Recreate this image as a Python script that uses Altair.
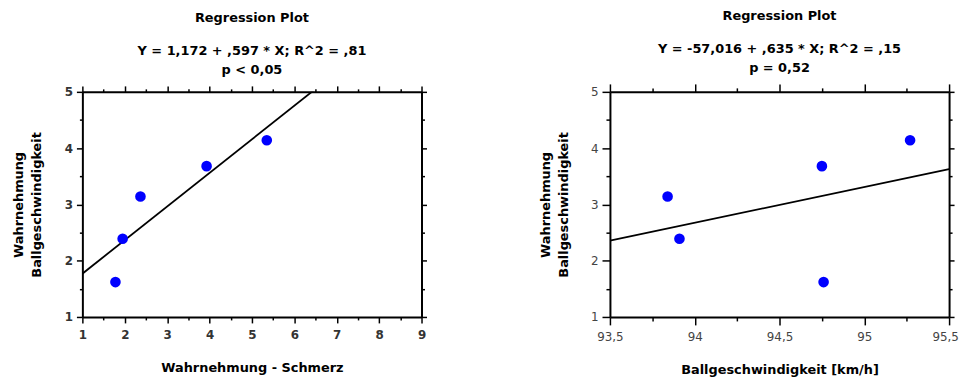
import altair as alt
import pandas as pd

# Shared response: Wahrnehmung Ballgeschwindigkeit
wahrnehmung_ball = [1.62, 2.39, 3.14, 3.68, 4.14]
# Left predictor: Wahrnehmung - Schmerz
wahrnehmung_schmerz = [1.78, 1.95, 2.37, 3.93, 5.35]
# Right predictor: Ballgeschwindigkeit [km/h]
ballgeschwindigkeit = [94.76, 93.91, 93.84, 94.75, 95.27]

left_intercept, left_slope = 1.172, 0.597
right_intercept, right_slope = -57.016, 0.635

left_x_ticks = [1, 1.5, 2, 2.5, 3, 3.5, 4, 4.5, 5, 5.5, 6, 6.5, 7, 7.5, 8, 8.5, 9]
right_x_ticks = [93.5, 93.75, 94, 94.25, 94.5, 94.75, 95, 95.25, 95.5]
y_ticks = [1, 1.5, 2, 2.5, 3, 3.5, 4, 4.5, 5]

left_domain = [1, 9]
right_domain = [93.5, 95.5]
y_domain = [1, 5]

FONT = "DejaVu Sans"
W, H = 342, 227


def make_panel(xvals, xdomain, xticks, major_test, label_expr, xtitle,
               intercept, slope, subtitle, label_weight, label_color,
               major_size, minor_size, ytitle_pad, last_label_offset):
    df = pd.DataFrame({"x": xvals, "y": wahrnehmung_ball})
    line_df = pd.DataFrame({"x": xdomain})
    xscale = alt.Scale(domain=xdomain, nice=False, zero=False)
    yscale = alt.Scale(domain=y_domain, nice=False, zero=False)
    xtick_size = {"condition": {"test": major_test, "value": major_size}, "value": minor_size}
    ytick_size = {"condition": {"test": "datum.value % 1 == 0", "value": major_size}, "value": minor_size}
    rtick_size = {"condition": {"test": "datum.value % 1 == 0", "value": 5}, "value": 3}
    common = dict(domainColor="black", domainWidth=2, tickColor="black",
                  tickWidth=1.5, grid=False)

    bottom = alt.Axis(orient="bottom", values=xticks, labelExpr=label_expr,
                      tickSize=xtick_size, labelFont=FONT, labelFontSize=12,
                      labelFontWeight=label_weight, labelColor=label_color,
                      labelPadding=7, labelFlush=False, labelOverlap=False,
                      labelOffset={"condition": {"test": f"datum.value == {xdomain[1]}",
                                                 "value": last_label_offset},
                                   "value": 0},
                      title=xtitle, titleFont=FONT,
                      titleFontSize=13, titleFontWeight="bold", titleColor="black",
                      titlePadding=21, **common)
    left = alt.Axis(orient="left", values=y_ticks,
                    labelExpr="datum.value % 1 == 0 ? format(datum.value, 'd') : ''",
                    tickSize=ytick_size, labelFont=FONT, labelFontSize=12,
                    labelFontWeight=label_weight, labelColor=label_color,
                    labelPadding=4, labelFlush=False, labelOverlap=False,
                    title=["Wahrnehmung", "Ballgeschwindigkeit"],
                    titleFont=FONT, titleFontSize=13, titleFontWeight="bold",
                    titleColor="black", titleLineHeight=18, titlePadding=ytitle_pad,
                    **common)
    top = alt.Axis(orient="top", values=xticks, labels=False, tickSize=xtick_size,
                   title=None, **common)
    right = alt.Axis(orient="right", values=y_ticks, labels=False,
                     tickSize=rtick_size, title=None, **common)

    line = alt.Chart(line_df).transform_calculate(
        y=f"{intercept} + {slope} * datum.x"
    ).mark_line(color="black", strokeWidth=1.8, clip=True).encode(
        x=alt.X("x:Q", scale=xscale, axis=None),
        y=alt.Y("y:Q", scale=yscale, axis=None),
    )
    pts = alt.Chart(df).mark_circle(size=115, color="#0000ff", opacity=1).encode(
        x=alt.X("x:Q", scale=xscale, axis=bottom),
        y=alt.Y("y:Q", scale=yscale, axis=left),
    )
    ghost = alt.Chart(df).mark_point(opacity=0).encode(
        x=alt.X("x:Q", scale=xscale, axis=top),
        y=alt.Y("y:Q", scale=yscale, axis=right),
    )
    return alt.layer(line, pts, ghost).resolve_axis(
        x="independent", y="independent"
    ).properties(
        width=W, height=H,
        title=alt.TitleParams(
            text="Regression Plot", subtitle=subtitle, anchor="middle",
            font=FONT, fontSize=13, fontWeight="bold", color="black",
            subtitleFont=FONT, subtitleFontSize=13, subtitleFontWeight="bold",
            subtitleColor="black", subtitleLineHeight=19, subtitlePadding=21,
            offset=8,
        ),
    )


left_panel = make_panel(
    wahrnehmung_schmerz, left_domain, left_x_ticks, "datum.value % 1 == 0",
    "datum.value % 1 == 0 ? format(datum.value, 'd') : ''",
    "Wahrnehmung  - Schmerz", left_intercept, left_slope,
    ["Y = 1,172 + ,597 * X; R^2 = ,81", "p < 0,05"], "bold", "#333333", 6, 3, 21, 0,
)
right_panel = make_panel(
    ballgeschwindigkeit, right_domain, right_x_ticks, "(datum.value * 2) % 1 == 0",
    "(datum.value * 2) % 1 == 0 ? replace(format(datum.value, '.1~f'), '.', ',') : ''",
    "Ballgeschwindigkeit [km/h]", right_intercept, right_slope,
    ["Y = -57,016 + ,635 * X; R^2 = ,15", "p = 0,52"], "normal", "#444444", 8, 4, 20, -4,
)

chart = alt.hconcat(left_panel, right_panel, spacing=113).configure_view(
    stroke=None
).properties(padding={"left": 4, "top": 0, "right": 0, "bottom": 0})

chart.save("out.html", embed_options={"renderer": "svg", "actions": False})
